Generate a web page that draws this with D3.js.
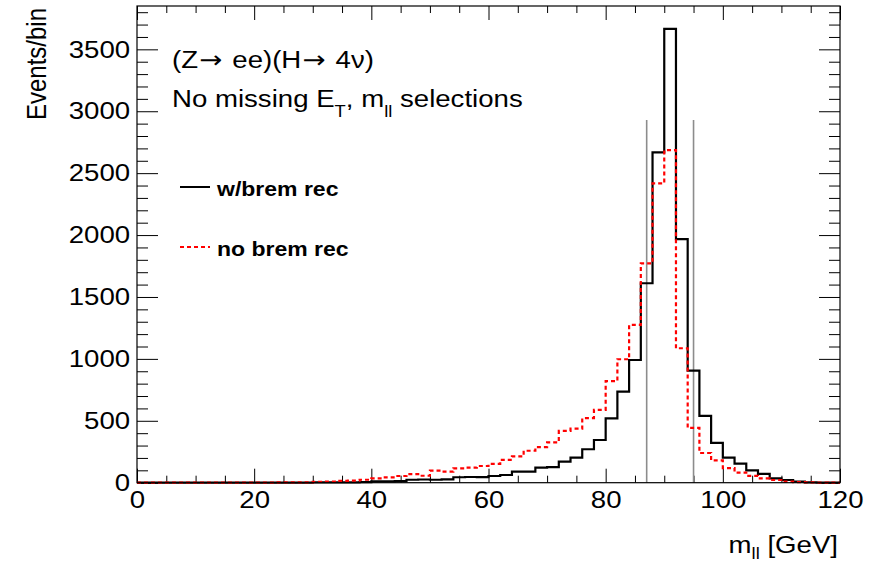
<!DOCTYPE html>
<html>
<head>
<meta charset="utf-8">
<script src="https://cdn.jsdelivr.net/npm/d3@7"></script>
<style>
  body { margin: 0; background: #fff; }
  svg { display: block; }
</style>
</head>
<body>
<div id="chart"></div>
<script>
// bins are 2 GeV wide, low edges 0..118
const binLow = d3.range(0, 120, 2);
const binWidth = 2;

// w/brem rec (solid black)
const withBrem = [
    0, 0, 0, 0, 0, 0, 0, 0, 0, 0, 0, 0, 1, 1, 1,
    2, 2, 3, 3, 4,
    10, 11, 12, 24, 26,
    24, 27, 44, 46, 45,
    54, 62, 89, 90, 122,
    126, 170, 202, 270, 345,
    520, 736, 991, 1611, 2668,
    3665, 1968, 905, 540, 322,
    202, 154, 99, 72, 35,
    22, 8, 3, 1, 0
];

// no brem rec (dashed red)
const noBrem = [
    0, 0, 0, 0, 0, 0, 0, 0, 0, 0, 1, 1, 2, 2, 3,
    7, 9, 14, 17, 24,
    35, 43, 54, 70, 56,
    97, 89, 116, 121, 135,
    152, 184, 212, 258, 288,
    326, 418, 436, 522, 588,
    820, 997, 1274, 1772, 2418,
    2686, 1086, 442, 240, 180,
    118, 82, 55, 35, 22,
    9, 4, 2, 1, 0
];

// selection window lines
const cutLines = [87, 95];
const cutTop = 2930;

const xMajor = d3.range(0, 121, 20);
const xMinor = d3.range(0, 121, 5).filter(v => v % 20 !== 0);
const yMajor = d3.range(0, 3501, 500);
const yMinor = d3.range(0, 3851, 100).filter(v => v % 500 !== 0);

const W = 884, H = 565;
const frame = { left: 137, right: 840, top: 6, bottom: 482.7 };
const SX = 1.15; // ROOT text looks stretched a bit horizontally
const FONT = '"Liberation Sans", Arial, Helvetica, sans-serif';
const ARROW_FONT = '"DejaVu Sans", sans-serif';

const svg = d3.select('#chart').append('svg')
    .attr('width', W)
    .attr('height', H)
    .style('font-family', FONT);

const x = d3.scaleLinear().domain([0, 120]).range([frame.left, frame.right]);
const y = d3.scaleLinear().domain([0, 3850]).range([frame.bottom, frame.top]);

// --- axes (ticks point inward, ROOT style) ---
function styleAxis(g) {
    g.select('.domain').remove();
    g.selectAll('.tick line').attr('stroke', '#000').attr('stroke-width', 1);
    g.attr('font-family', FONT).attr('font-size', 24);
    g.selectAll('text').attr('fill', '#000');
}

svg.append('g')
    .attr('transform', `translate(0,${frame.bottom})`)
    .call(d3.axisBottom(x).tickValues(xMajor).tickSize(-14).tickPadding(8).tickSizeOuter(0).tickFormat(d3.format('d')))
    .call(styleAxis)
    .selectAll('text').attr('transform', `scale(${SX},1)`);

svg.append('g')
    .attr('transform', `translate(0,${frame.bottom})`)
    .call(d3.axisBottom(x).tickValues(xMinor).tickSize(-7).tickFormat('').tickSizeOuter(0))
    .call(styleAxis);

svg.append('g')
    .attr('transform', `translate(0,${frame.top})`)
    .call(d3.axisTop(x).tickValues(xMajor).tickSize(-14).tickFormat('').tickSizeOuter(0))
    .call(styleAxis);

svg.append('g')
    .attr('transform', `translate(0,${frame.top})`)
    .call(d3.axisTop(x).tickValues(xMinor).tickSize(-7).tickFormat('').tickSizeOuter(0))
    .call(styleAxis);

svg.append('g')
    .attr('transform', `translate(${frame.left},0)`)
    .call(d3.axisLeft(y).tickValues(yMajor).tickSize(-21).tickPadding(6).tickSizeOuter(0).tickFormat(d3.format('d')))
    .call(styleAxis)
    .selectAll('text').attr('transform', `scale(${SX},1)`);

svg.append('g')
    .attr('transform', `translate(${frame.left},0)`)
    .call(d3.axisLeft(y).tickValues(yMinor).tickSize(-11).tickFormat('').tickSizeOuter(0))
    .call(styleAxis);

svg.append('g')
    .attr('transform', `translate(${frame.right},0)`)
    .call(d3.axisRight(y).tickValues(yMajor).tickSize(-21).tickFormat('').tickSizeOuter(0))
    .call(styleAxis);

svg.append('g')
    .attr('transform', `translate(${frame.right},0)`)
    .call(d3.axisRight(y).tickValues(yMinor).tickSize(-11).tickFormat('').tickSizeOuter(0))
    .call(styleAxis);

// --- cut lines ---
svg.append('g')
    .selectAll('line')
    .data(cutLines)
    .enter().append('line')
    .attr('x1', d => x(d))
    .attr('x2', d => x(d))
    .attr('y1', y(0))
    .attr('y2', y(cutTop))
    .attr('stroke', '#8c8c8c')
    .attr('stroke-width', 1.6);

// --- histograms as step outlines ---
function stepPoints(values) {
    const pts = binLow.map((lo, i) => [lo, values[i]]);
    pts.push([binLow[binLow.length - 1] + binWidth, values[values.length - 1]]);
    return pts;
}
const step = d3.line()
    .x(d => x(d[0]))
    .y(d => y(d[1]))
    .curve(d3.curveStepAfter);

svg.append('path')
    .attr('d', step(stepPoints(withBrem)))
    .attr('fill', 'none')
    .attr('stroke', '#000')
    .attr('stroke-width', 2.2);

svg.append('path')
    .attr('d', step(stepPoints(noBrem)))
    .attr('fill', 'none')
    .attr('stroke', '#ff0000')
    .attr('stroke-width', 2.2)
    .attr('stroke-dasharray', '4,3');

// frame
svg.append('rect')
    .attr('x', frame.left)
    .attr('y', frame.top)
    .attr('width', frame.right - frame.left)
    .attr('height', frame.bottom - frame.top)
    .attr('fill', 'none')
    .attr('stroke', '#000')
    .attr('stroke-width', 1.2);

// --- texts ---
svg.append('text')
    .attr('transform', `translate(46,8) scale(${SX},1) rotate(-90)`)
    .attr('text-anchor', 'end')
    .attr('font-size', 24)
    .text('Events/bin');

const xTitle = svg.append('text')
    .attr('transform', `translate(838,553) scale(${SX},1)`)
    .attr('text-anchor', 'end')
    .attr('font-size', 24);
xTitle.append('tspan').text('m');
xTitle.append('tspan').attr('font-size', 16).attr('dy', 6).text('ll');
xTitle.append('tspan').attr('dy', -6).text(' [GeV]');

const proc = svg.append('text')
    .attr('transform', `translate(172,68) scale(${SX},1)`)
    .attr('font-size', 24);
proc.append('tspan').text('(Z');
proc.append('tspan').attr('font-family', ARROW_FONT).attr('font-size', 24).attr('dx', 1).text('\u2192');
proc.append('tspan').attr('dx', 2).text(' ee)(H');
proc.append('tspan').attr('font-family', ARROW_FONT).attr('font-size', 24).attr('dx', 1).text('\u2192');
proc.append('tspan').attr('dx', 2).text(' 4\u03bd)');

const sel = svg.append('text')
    .attr('transform', `translate(172,106.5) scale(${SX},1)`)
    .attr('font-size', 24);
sel.append('tspan').text('No missing E');
sel.append('tspan').attr('font-size', 16).attr('dy', 10).text('T');
sel.append('tspan').attr('dy', -10).text(', m');
sel.append('tspan').attr('font-size', 16).attr('dy', 10).text('ll');
sel.append('tspan').attr('dy', -10).text(' selections');

// legend
const legend = [
    { label: 'w/brem rec', color: '#000', dash: null, y: 187 },
    { label: 'no brem rec', color: '#ff0000', dash: '4,3', y: 247 }
];
const lg = svg.append('g');
lg.selectAll('line')
    .data(legend)
    .enter().append('line')
    .attr('x1', 180)
    .attr('x2', 210)
    .attr('y1', d => d.y)
    .attr('y2', d => d.y)
    .attr('stroke', d => d.color)
    .attr('stroke-width', 2)
    .attr('stroke-dasharray', d => d.dash);
lg.selectAll('text')
    .data(legend)
    .enter().append('text')
    .attr('transform', d => `translate(217,${d.y + 9}) scale(${SX},1)`)
    .attr('font-size', 20)
    .attr('font-weight', 'bold')
    .text(d => d.label);
</script>
</body>
</html>
